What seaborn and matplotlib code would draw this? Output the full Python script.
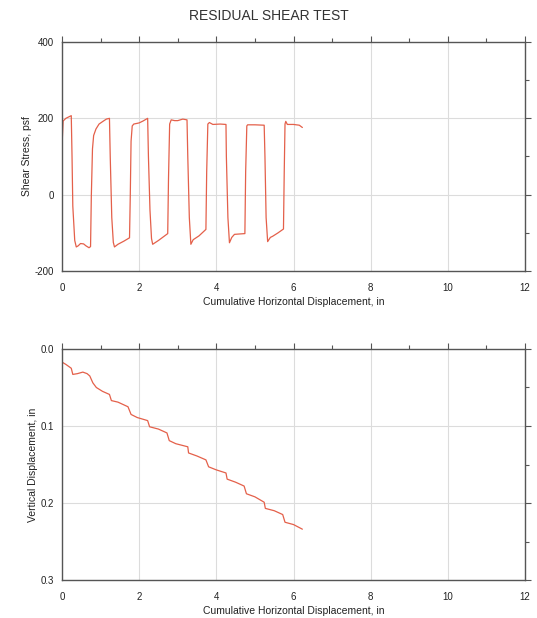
import matplotlib
matplotlib.use("Agg")
import matplotlib.pyplot as plt
import seaborn as sns
import pandas as pd
from matplotlib.ticker import MultipleLocator

sns.set_theme(style="white")
plt.rcParams['font.family'] = ['Liberation Sans', 'DejaVu Sans']
plt.rcParams['axes.unicode_minus'] = False

title = "RESIDUAL SHEAR TEST"
xlabel = "Cumulative Horizontal Displacement, in"
ylabel_top = "Shear Stress, psf"
ylabel_bot = "Vertical Displacement, in"

shear_x = [0.00, 0.01, 0.03, 0.10, 0.24, 0.26, 0.28, 0.33, 0.37, 0.42, 0.48, 0.56, 0.62, 0.70, 0.74,
           0.76, 0.79, 0.82, 0.88, 0.96, 1.06, 1.15, 1.23, 1.25, 1.29, 1.33, 1.36, 1.45, 1.60, 1.75,
           1.77, 1.79, 1.82, 1.86, 2.00, 2.10, 2.22, 2.24, 2.28, 2.32, 2.35, 2.50, 2.74,
           2.76, 2.79, 2.83, 2.92, 3.00, 3.13, 3.24, 3.26, 3.30, 3.34, 3.40, 3.55, 3.73,
           3.75, 3.78, 3.82, 3.91, 4.10, 4.25, 4.26, 4.30, 4.34, 4.40, 4.47, 4.60, 4.74,
           4.76, 4.79, 4.81, 5.00, 5.24, 5.26, 5.29, 5.33, 5.40, 5.46, 5.60, 5.74,
           5.76, 5.78, 5.80, 5.84, 6.00, 6.15, 6.23]
shear_y = [0, 150, 193, 200, 207, 100, -30, -120, -137, -134, -128, -129, -134, -139, -136,
           -4, 120, 155, 172, 185, 192, 198, 200, 100, -60, -125, -137, -130, -122, -113,
           0, 140, 180, 185, 188, 193, 200, 100, -40, -115, -130, -120, -102,
           40, 185, 196, 194, 194, 198, 196, 100, -60, -130, -118, -108, -91,
           60, 185, 189, 184, 185, 184, 100, -60, -126, -112, -104, -103, -102,
           60, 180, 183, 183, 182, 100, -60, -123, -112, -109, -100, -90,
           60, 185, 192, 184, 184, 182, 176]

vert_x = [0.00, 0.10, 0.24, 0.28, 0.40, 0.54, 0.65, 0.72, 0.80, 0.89, 1.05, 1.23, 1.28, 1.45, 1.71,
          1.79, 1.95, 2.22, 2.27, 2.50, 2.72, 2.78, 2.95, 3.26, 3.28, 3.50, 3.73, 3.80, 4.00, 4.25,
          4.28, 4.50, 4.72, 4.78, 5.00, 5.24, 5.27, 5.50, 5.72, 5.78, 6.00, 6.23]
vert_y = [0.017, 0.020, 0.025, 0.033, 0.032, 0.030, 0.032, 0.035, 0.044, 0.050, 0.055, 0.059, 0.067, 0.069,
          0.075, 0.085, 0.089, 0.093, 0.101, 0.104, 0.109, 0.119, 0.123, 0.127, 0.135, 0.139, 0.144,
          0.153, 0.157, 0.161, 0.169, 0.173, 0.178, 0.188, 0.192, 0.199, 0.207, 0.210, 0.215, 0.225,
          0.228, 0.234]

df_top = pd.DataFrame({"x": shear_x, "y": shear_y})
df_bot = pd.DataFrame({"x": vert_x, "y": vert_y})

line_color = "#E4604A"
grid_color = "#DCDCDC"
spine_color = "#555555"

fig = plt.figure(figsize=(5.37, 6.18), dpi=100)
ax1 = fig.add_axes([62/537, 1-271/618, 463/537, 229/618])
ax2 = fig.add_axes([62/537, 1-580/618, 463/537, 231/618])

sns.lineplot(data=df_top, x="x", y="y", sort=False, estimator=None, ax=ax1,
             color=line_color, linewidth=0.9)
sns.lineplot(data=df_bot, x="x", y="y", sort=False, estimator=None, ax=ax2,
             color=line_color, linewidth=0.9)

ax1.set_xlim(0, 12)
ax1.set_ylim(-200, 400)
ax1.yaxis.set_major_locator(MultipleLocator(200))
ax1.yaxis.set_minor_locator(MultipleLocator(100))

ax2.set_xlim(0, 12)
ax2.set_ylim(0.3, 0.0)
ax2.yaxis.set_major_locator(MultipleLocator(0.1))
ax2.yaxis.set_minor_locator(MultipleLocator(0.05))
ax2.set_yticks([0.0, 0.1, 0.2, 0.3])
ax2.set_yticklabels(["0.0", "0.1", "0.2", "0.3"])

for ax, yl in ((ax1, ylabel_top), (ax2, ylabel_bot)):
    ax.xaxis.set_major_locator(MultipleLocator(2))
    ax.xaxis.set_minor_locator(MultipleLocator(1))
    ax.set_xlabel(xlabel, fontsize=7.5, color="#222222", labelpad=2.5)
    ax.set_ylabel(yl, fontsize=7.5, color="#222222", labelpad=2)
    ax.tick_params(axis="both", which="major", labelsize=7, length=4, width=0.8,
                   color=spine_color, direction="out", pad=2, labelcolor="#222222",
                   top=True, right=True)
    ax.tick_params(axis="x", which="major", pad=5)
    ax.tick_params(axis="both", which="minor", length=3, width=0.8, color=spine_color,
                   direction="out", top=True, right=True)
    for s in ax.spines.values():
        s.set_visible(True)
        s.set_color(spine_color)
        s.set_linewidth(1.0)
    ax.grid(True, which="major", color=grid_color, linewidth=0.8)
    ax.set_axisbelow(True)

fig.suptitle(title, fontsize=10, color="#333333", y=1-16/618, va="center")

fig.savefig("out.png", dpi=100)
